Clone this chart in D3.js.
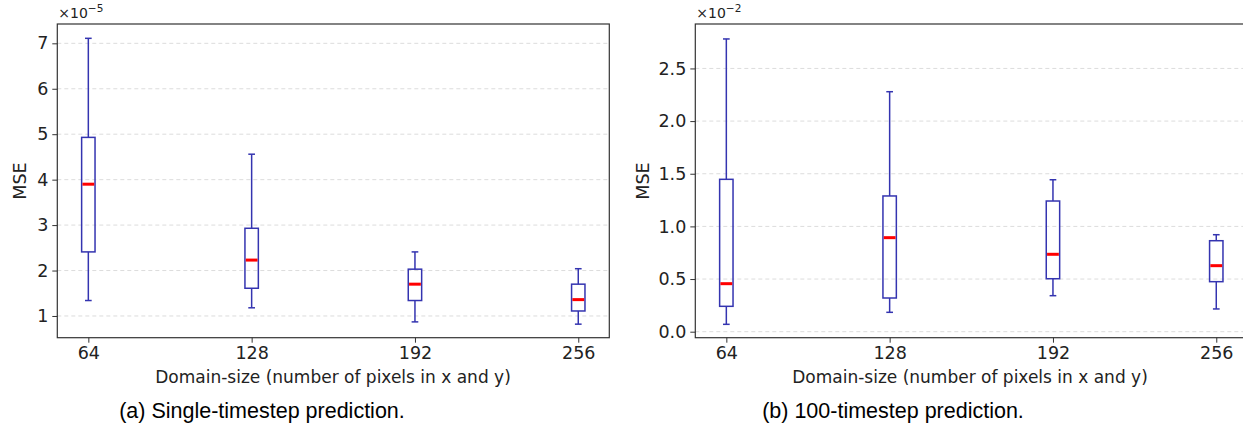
<!DOCTYPE html>
<html>
<head>
<meta charset="utf-8">
<script src="https://cdn.jsdelivr.net/npm/d3@7"></script>
<style>
  body { margin: 0; background: #fff; }
  svg { display: block; }
</style>
</head>
<body>
<div id="vis-holder"></div>
<script>
// Categories on the x axis
const domainSizes = ["64", "128", "192", "256"];

// Box stats for panel (a), in units of 1e-5: [whiskerLow, q1, median, q3, whiskerHigh]
const singleLow    = [1.34, 1.18, 0.87, 0.82];
const singleQ1     = [2.41, 1.61, 1.34, 1.11];
const singleMedian = [3.90, 2.23, 1.70, 1.36];
const singleQ3     = [4.93, 2.93, 2.03, 1.70];
const singleHigh   = [7.11, 4.56, 2.41, 2.04];
const singleTicks  = [1, 2, 3, 4, 5, 6, 7];

// Box stats for panel (b), in units of 1e-2
const multiLow    = [0.070, 0.184, 0.342, 0.216];
const multiQ1     = [0.241, 0.320, 0.503, 0.475];
const multiMedian = [0.456, 0.893, 0.735, 0.627];
const multiQ3     = [1.447, 1.289, 1.241, 0.864];
const multiHigh   = [2.780, 2.279, 1.443, 0.921];
const multiTicks  = [0, 0.5, 1.0, 1.5, 2.0, 2.5];

const W = 1243, H = 425;
const boxColor = "#3434b0";
const medianColor = "#ff0000";

const svg = d3.select("#vis-holder")
              .append("svg")
              .attr("width", W)
              .attr("height", H);

// Draws one panel of boxes
function drawPanel(opts) {
  const g = svg.append("g");
  const top = 24, bottom = 337.7;

  // x scale: one point per domain size
  const x = d3.scalePoint()
              .domain(domainSizes)
              .range([opts.left, opts.right])
              .padding(0.19);

  const y = d3.scaleLinear()
              .domain(opts.yDomain)
              .range([bottom, top]);

  // dashed grid
  g.selectAll(".grid")
   .data(opts.ticks)
   .enter()
   .append("line")
     .attr("x1", opts.left)
     .attr("x2", Math.min(opts.right, W))
     .attr("y1", (d) => y(d))
     .attr("y2", (d) => y(d))
     .attr("stroke", "#dcdcdc")
     .attr("stroke-width", 1)
     .attr("stroke-dasharray", "4,3");

  // rows for the boxes
  const rows = domainSizes.map((k, i) => ({
    key: k, lo: opts.lo[i], q1: opts.q1[i], med: opts.med[i], q3: opts.q3[i], hi: opts.hi[i]
  }));
  const bw = 13.4, cw = 6.7;

  const boxes = g.selectAll(".box")
                 .data(rows)
                 .enter()
                 .append("g")
                   .attr("class", "box");

  // whiskers
  boxes.append("line")
       .attr("x1", (d) => x(d.key)).attr("x2", (d) => x(d.key))
       .attr("y1", (d) => y(d.hi)).attr("y2", (d) => y(d.q3))
       .attr("stroke", boxColor).attr("stroke-width", 1.5);
  boxes.append("line")
       .attr("x1", (d) => x(d.key)).attr("x2", (d) => x(d.key))
       .attr("y1", (d) => y(d.q1)).attr("y2", (d) => y(d.lo))
       .attr("stroke", boxColor).attr("stroke-width", 1.5);

  // caps
  ["hi", "lo"].forEach((k) => {
    boxes.append("line")
         .attr("x1", (d) => x(d.key) - cw / 2).attr("x2", (d) => x(d.key) + cw / 2)
         .attr("y1", (d) => y(d[k])).attr("y2", (d) => y(d[k]))
         .attr("stroke", boxColor).attr("stroke-width", 1.5);
  });

  // box body
  boxes.append("rect")
       .attr("x", (d) => x(d.key) - bw / 2)
       .attr("y", (d) => y(d.q3))
       .attr("width", bw)
       .attr("height", (d) => y(d.q1) - y(d.q3))
       .attr("fill", "none")
       .attr("stroke", boxColor)
       .attr("stroke-width", 1.5);

  // median
  boxes.append("line")
       .attr("x1", (d) => x(d.key) - bw / 2 + 0.8).attr("x2", (d) => x(d.key) + bw / 2 - 0.8)
       .attr("y1", (d) => y(d.med)).attr("y2", (d) => y(d.med))
       .attr("stroke", medianColor).attr("stroke-width", 3);

  // frame
  g.append("rect")
   .attr("x", opts.left).attr("y", top)
   .attr("width", opts.right - opts.left).attr("height", bottom - top)
   .attr("fill", "none")
   .attr("stroke", "#333")
   .attr("stroke-width", 1.2);

  // x axis
  const xa = g.append("g")
              .attr("transform", `translate(0,${bottom})`)
              .call(d3.axisBottom(x).tickSize(5).tickSizeOuter(0).tickPadding(4));
  xa.select(".domain").remove();
  xa.selectAll("line").attr("stroke", "#333");
  xa.selectAll("text")
    .attr("font-family", "DejaVu Sans")
    .attr("font-size", "17.5px")
    .attr("fill", "#222");

  // y axis
  const ya = g.append("g")
              .attr("transform", `translate(${opts.left},0)`)
              .call(d3.axisLeft(y).tickValues(opts.ticks).tickFormat(opts.fmt).tickSize(5).tickPadding(4));
  ya.select(".domain").remove();
  ya.selectAll("line").attr("stroke", "#333");
  ya.selectAll("text")
    .attr("font-family", "DejaVu Sans")
    .attr("font-size", "17.5px")
    .attr("fill", "#222");

  // offset text
  const off = g.append("text")
               .attr("x", opts.left + 1)
               .attr("y", 18)
               .attr("font-family", "DejaVu Sans")
               .attr("font-size", "14px")
               .attr("fill", "#222")
               .text("×10");
  off.append("tspan")
     .attr("dy", -6)
     .attr("font-size", "10.5px")
     .text(opts.exp);

  // y label
  g.append("text")
   .attr("transform", `translate(${opts.left - opts.yLabelOffset},181) rotate(-90)`)
   .attr("text-anchor", "middle")
   .attr("font-family", "DejaVu Sans")
   .attr("font-size", "17.5px")
   .attr("fill", "#222")
   .text("MSE");

  // x label
  g.append("text")
   .attr("x", opts.labelX)
   .attr("y", 383)
   .attr("text-anchor", "middle")
   .attr("font-family", "DejaVu Sans")
   .attr("font-size", "17px")
   .attr("fill", "#222")
   .text("Domain-size (number of pixels in x and y)");

  // caption
  g.append("text")
   .attr("x", opts.captionX)
   .attr("y", 418)
   .attr("text-anchor", "middle")
   .attr("font-family", "Liberation Sans, Arial, sans-serif")
   .attr("font-size", "21.5px")
   .attr("fill", "#000")
   .text(opts.caption);
}

drawPanel({
  left: 57.3, right: 609.3,
  yDomain: [0.522, 7.425],
  ticks: singleTicks, fmt: d3.format("d"), exp: "−5",
  lo: singleLow, q1: singleQ1, med: singleMedian, q3: singleQ3, hi: singleHigh,
  labelX: 333, captionX: 262, yLabelOffset: 31,
  caption: "(a) Single-timestep prediction."
});

drawPanel({
  left: 695.3, right: 1247.3,
  yDomain: [-0.057, 2.922],
  ticks: multiTicks, fmt: d3.format(".1f"), exp: "−2",
  lo: multiLow, q1: multiQ1, med: multiMedian, q3: multiQ3, hi: multiHigh,
  labelX: 970, captionX: 893, yLabelOffset: 46,
  caption: "(b) 100-timestep prediction."
});
</script>
</body>
</html>
